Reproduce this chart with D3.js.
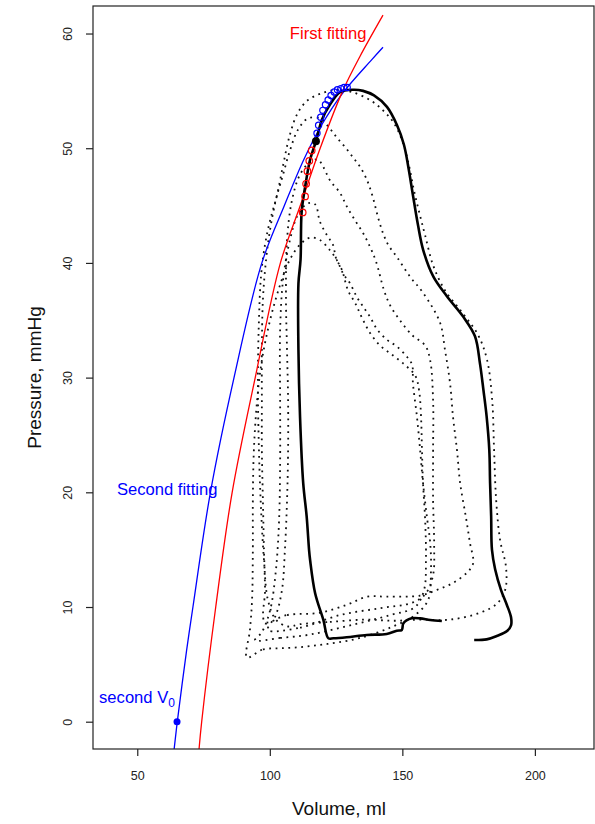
<!DOCTYPE html>
<meta charset="utf-8">
<style>
body { margin: 0; background: #fff; }
svg text { font-family: "Liberation Sans", Arial, Helvetica, sans-serif; }
</style>
<svg id="svg" width="595" height="824"></svg>
<script src="https://cdn.jsdelivr.net/npm/d3@7"></script>
<script>
// axis ticks
var xTicks = [50, 100, 150, 200];
var yTicks = [0, 10, 20, 30, 40, 50, 60];

// first fitting (red), volume / pressure
var firstFitVol = [73.3, 74.3, 79.6, 85.8, 94.5, 104.0, 111.5, 119.0, 127.5, 134.0, 142.7];
var firstFitP   = [-2.4, 0, 10, 20, 30, 40, 45, 50, 55, 58, 61.6];

// second fitting (blue)
var secondFitVol = [63.9, 65.1, 68.6, 71.0, 77.6, 86.5, 97.0, 105.5, 112.8, 119.5, 127.5, 138.4, 142.7];
var secondFitP   = [-2.4, 0, 6.2, 10, 20, 30, 40, 45, 49, 52, 54.8, 57.7, 58.8];

// points used for the first fit (red open circles)
var firstPtsVol = [112.4, 113.3, 113.7, 114.2, 114.9, 115.8];
var firstPtsP   = [44.4, 45.8, 46.9, 48.0, 48.9, 49.8];

// points used for the second fit (blue open circles)
var secondPtsVol = [117.8, 118.4, 119.2, 120.0, 121.0, 122.0, 123.1, 124.3, 125.5, 126.8, 128.0, 129.2];
var secondPtsP   = [51.3, 52.0, 52.7, 53.3, 53.8, 54.2, 54.6, 54.9, 55.1, 55.2, 55.3, 55.3];

// end-systolic point of the solid loop, and second V0
var esPoint = [117.4, 50.6];
var v0Point = [65, 0];

// solid loop (one beat)
var loopVol = [177.1,181.8,185.6,189.5,191.0,191.0,189.4,187.2,185.0,183.8,183.5,183.1,182.8,181.8,180.6,179.3,177.4,173.0,166.8,161.7,157.9,155.9,154.0,152.3,150.6,148.0,144.2,139.3,135.2,131.4,126.5,122.7,119.7,117.4,115.2,113.3,112.0,111.6,110.8,110.8,111.4,112.6,113.9,114.8,115.2,117.1,120.2,122.1,124.0,129.0,136.6,144.1,147.9,149.8,150.4,153.5,156.7,160.5,164.9];
var loopP   = [7.12,7.18,7.47,7.9,8.4,9.1,10.2,11.5,13.3,15.0,17.9,20.8,23.7,26.6,28.9,31.2,33.6,35.3,37.1,38.8,41.1,43.3,45.9,48.3,50.3,52.0,53.6,54.6,55.0,55.1,54.9,53.8,52.5,50.6,49.0,46.6,44.4,40.3,38.2,32.4,26.6,20.8,17.9,15.0,14.1,11.2,8.87,7.27,7.27,7.36,7.56,7.65,7.93,8.0,8.58,9.01,9.01,8.87,8.78];

// dotted loops (occlusion beats), [volume, pressure]
var beat1 = [[111.4,8.5],[122.7,8.7],[136.3,8.9],[146.5,8.8],[156.7,8.9],[168.0,8.9],[179.3,9.5],[185.7,10.3],[188.8,11.5],[189.1,13.5],[186.9,15.8],[185.4,19.3],[184.6,23.7],[183.9,28.0],[182.0,31.5],[178.6,33.7],[172.5,35.7],[166.1,37.6],[161.6,39.8],[158.6,42.4],[156.7,44.1],[154.4,46.3],[152.5,48.5],[149.9,50.7],[146.5,52.3],[142.7,53.3],[137.8,54.2],[131.0,54.9],[125.7,55.1],[119.7,54.8],[114.4,54.2],[110.6,53.1],[107.6,51.2],[105.0,48.5],[102.7,45.9],[100.1,43.7],[98.2,41.6],[96.7,38.9],[95.9,35.0],[95.5,29.8],[95.9,23.7],[96.7,18.5],[97.8,14.1],[99.3,10.6],[102.3,8.9],[106.9,8.3]];
var beat2 = [[98.2,8.7],[106.5,9.3],[118.9,9.5],[129.1,10.2],[136.7,10.9],[144.2,10.9],[156.7,11.0],[163.1,11.5],[169.1,12.1],[174.4,13.0],[176.7,13.8],[175.5,15.6],[174.0,17.8],[171.8,20.8],[170.6,23.7],[169.1,26.6],[168.0,29.5],[166.1,32.4],[164.2,34.8],[157.8,37.4],[152.9,38.8],[148.0,40.5],[144.6,41.6],[142.7,42.6],[140.8,44.0],[138.9,45.7],[136.7,47.2],[134.0,48.4],[131.4,49.2],[128.4,50.1],[125.4,50.9],[122.7,51.7],[118.9,52.6],[114.4,52.6],[110.6,51.6],[107.6,49.8],[105.0,47.7],[102.3,45.5],[100.1,42.9],[98.6,40.3],[97.4,36.8],[97.0,32.4],[97.0,28.0],[97.0,23.7],[97.4,19.3],[97.8,15.0],[98.2,11.5]];
var beat3 = [[99.3,8.0],[111.4,8.2],[126.5,9.3],[141.6,9.9],[154.0,10.4],[158.9,11.2],[161.6,12.8],[162.0,15.4],[161.6,19.3],[161.6,23.7],[161.6,28.0],[160.5,31.5],[158.6,32.8],[153.7,33.7],[149.1,35.0],[145.4,36.3],[143.1,37.6],[140.1,40.1],[137.8,41.4],[135.2,42.6],[132.2,43.7],[129.1,44.9],[126.5,46.1],[122.7,47.2],[120.1,48.4],[118.2,49.0],[115.2,48.8],[111.4,47.7],[108.4,45.5],[106.5,42.0],[106.1,36.8],[106.5,32.4],[106.9,28.0],[106.9,23.7],[106.5,19.3],[105.7,15.0],[104.6,11.5],[102.3,9.3]];
var beat4 = [[94.4,7.1],[103.9,7.3],[115.2,7.6],[130.3,8.4],[145.4,9.3],[154.8,10.0],[158.2,11.5],[158.9,14.1],[158.6,17.6],[157.8,20.8],[157.4,23.7],[157.1,26.3],[156.3,28.9],[154.8,30.2],[151.0,31.1],[146.1,32.0],[141.6,32.8],[137.8,33.9],[134.8,35.2],[132.2,36.5],[129.5,37.6],[127.2,39.4],[125.0,40.4],[123.8,41.6],[121.6,42.4],[118.9,43.6],[117.1,45.1],[114.4,45.2],[110.6,44.2],[107.6,42.0],[105.0,38.5],[103.9,34.2],[103.9,28.0],[103.9,22.8],[103.5,17.6],[102.3,13.2],[100.1,9.7],[97.0,7.8]];
var beat5 = [[91.4,5.6],[97.4,6.3],[103.9,6.4],[111.4,6.5],[118.9,6.7],[125.4,6.9],[134.0,7.3],[145.4,8.2],[154.8,9.3],[159.7,10.6],[160.8,13.2],[160.5,15.6],[159.3,17.8],[157.8,20.8],[156.7,23.7],[155.5,26.6],[154.0,29.5],[153.7,31.1],[151.8,31.8],[148.0,32.7],[144.2,33.3],[140.5,34.2],[137.8,35.3],[135.2,36.2],[132.9,37.0],[130.3,38.2],[127.6,39.1],[125.4,40.2],[122.7,41.1],[118.9,42.0],[115.2,42.2],[111.4,41.6],[107.6,40.3],[103.9,38.1],[100.1,35.0],[97.0,31.5],[95.2,28.0],[94.0,23.7],[93.6,19.3],[93.6,15.0],[93.3,10.6],[92.5,8.0]];

// text labels, anchored in data units
var labels = [
  { text: "First fitting", vol: 122.0, p: 60.0, color: "red" },
  { text: "Second fitting", vol: 61.3, p: 20.3, color: "blue" }
];

var svg = d3.select("svg");

var x = d3.scaleLinear().domain([33.3, 222.3]).range([93, 594]);
var y = d3.scaleLinear().domain([-2.38, 62.4]).range([749, 6]);

svg.append("defs").append("clipPath").attr("id", "plotclip")
  .append("rect")
  .attr("x", x.range()[0]).attr("y", y.range()[1])
  .attr("width", x.range()[1] - x.range()[0])
  .attr("height", y.range()[0] - y.range()[1]);

var plot = svg.append("g").attr("clip-path", "url(#plotclip)");

function zipPts(vs, ps) {
  return vs.map(function(v, i) { return [v, ps[i]]; });
}

var line = d3.line()
  .x(function(d) { return x(d[0]); })
  .y(function(d) { return y(d[1]); })
  .curve(d3.curveCatmullRom.alpha(0.5));

var loopLine = d3.line()
  .x(function(d) { return x(d[0]); })
  .y(function(d) { return y(d[1]); })
  .curve(d3.curveCatmullRomClosed.alpha(0.5));

// dotted beats
[beat1, beat2, beat3, beat4, beat5].forEach(function(b) {
  plot.append("path")
    .attr("d", loopLine(b))
    .attr("fill", "none")
    .attr("stroke", "#111")
    .attr("stroke-width", 1.8)
    .attr("stroke-dasharray", "1.8 4.6");
});

// fitted curves
plot.append("path")
  .attr("d", line(zipPts(secondFitVol, secondFitP)))
  .attr("fill", "none").attr("stroke", "blue").attr("stroke-width", 1.3);

plot.append("path")
  .attr("d", line(zipPts(firstFitVol, firstFitP)))
  .attr("fill", "none").attr("stroke", "red").attr("stroke-width", 1.3);

// solid loop
plot.append("path")
  .attr("d", line(zipPts(loopVol, loopP)))
  .attr("fill", "none")
  .attr("stroke", "#000")
  .attr("stroke-width", 2.6)
  .attr("stroke-linejoin", "round");

// fit points
plot.selectAll(".firstpt")
  .data(zipPts(firstPtsVol, firstPtsP))
  .enter().append("circle")
  .attr("cx", function(d) { return x(d[0]); })
  .attr("cy", function(d) { return y(d[1]); })
  .attr("r", 3.3)
  .attr("fill", "none").attr("stroke", "red").attr("stroke-width", 1.2);

plot.selectAll(".secondpt")
  .data(zipPts(secondPtsVol, secondPtsP))
  .enter().append("circle")
  .attr("cx", function(d) { return x(d[0]); })
  .attr("cy", function(d) { return y(d[1]); })
  .attr("r", 3.1)
  .attr("fill", "none").attr("stroke", "blue").attr("stroke-width", 1.2);

plot.append("circle")
  .attr("cx", x(esPoint[0])).attr("cy", y(esPoint[1]))
  .attr("r", 4).attr("fill", "#000");

plot.append("circle")
  .attr("cx", x(v0Point[0])).attr("cy", y(v0Point[1]))
  .attr("r", 3.5).attr("fill", "blue");

// labels
labels.forEach(function(l) {
  svg.append("text")
    .attr("x", x(l.vol)).attr("y", y(l.p))
    .attr("dy", "0.35em")
    .attr("text-anchor", "middle")
    .attr("font-size", "16.6px")
    .attr("fill", l.color)
    .text(l.text);
});

var v0Label = svg.append("text")
  .attr("x", x(49.9)).attr("y", y(2.1))
  .attr("dy", "0.35em")
  .attr("text-anchor", "middle")
  .attr("font-size", "16.6px")
  .attr("fill", "blue");
v0Label.append("tspan").text("second V");
v0Label.append("tspan").attr("font-size", "12px").attr("dy", "4").text("0");

// box
svg.append("rect")
  .attr("x", x.range()[0]).attr("y", y.range()[1])
  .attr("width", x.range()[1] - x.range()[0])
  .attr("height", y.range()[0] - y.range()[1])
  .attr("fill", "none").attr("stroke", "#222").attr("stroke-width", 1.2);

// axes
var xAxis = svg.append("g")
  .attr("transform", "translate(0," + y.range()[0] + ")")
  .call(d3.axisBottom(x).tickValues(xTicks).tickSize(7).tickPadding(15.5));
xAxis.select(".domain").remove();
xAxis.selectAll("line").attr("stroke", "#222").attr("stroke-width", 1.2);
xAxis.selectAll("text").attr("font-size", "12.5px").attr("fill", "#222")
  .attr("font-family", "Liberation Sans, Arial, sans-serif");

var yAxis = svg.append("g")
  .attr("transform", "translate(" + x.range()[0] + ",0)")
  .call(d3.axisLeft(y).tickValues(yTicks).tickSize(7));
yAxis.select(".domain").remove();
yAxis.selectAll("line").attr("stroke", "#222").attr("stroke-width", 1.2);
yAxis.selectAll("text")
  .attr("x", null).attr("dy", null)
  .attr("text-anchor", "middle")
  .attr("transform", "translate(-21.5,0) rotate(-90)")
  .attr("font-size", "12.5px").attr("fill", "#222")
  .attr("font-family", "Liberation Sans, Arial, sans-serif");

// axis titles
svg.append("text")
  .attr("x", 339).attr("y", 815)
  .attr("text-anchor", "middle")
  .attr("font-size", "19px").attr("fill", "#111")
  .text("Volume, ml");

svg.append("text")
  .attr("transform", "translate(41," + ((y.range()[0] + y.range()[1]) / 2) + ") rotate(-90)")
  .attr("text-anchor", "middle")
  .attr("font-size", "19px").attr("fill", "#111")
  .text("Pressure, mmHg");
</script>
